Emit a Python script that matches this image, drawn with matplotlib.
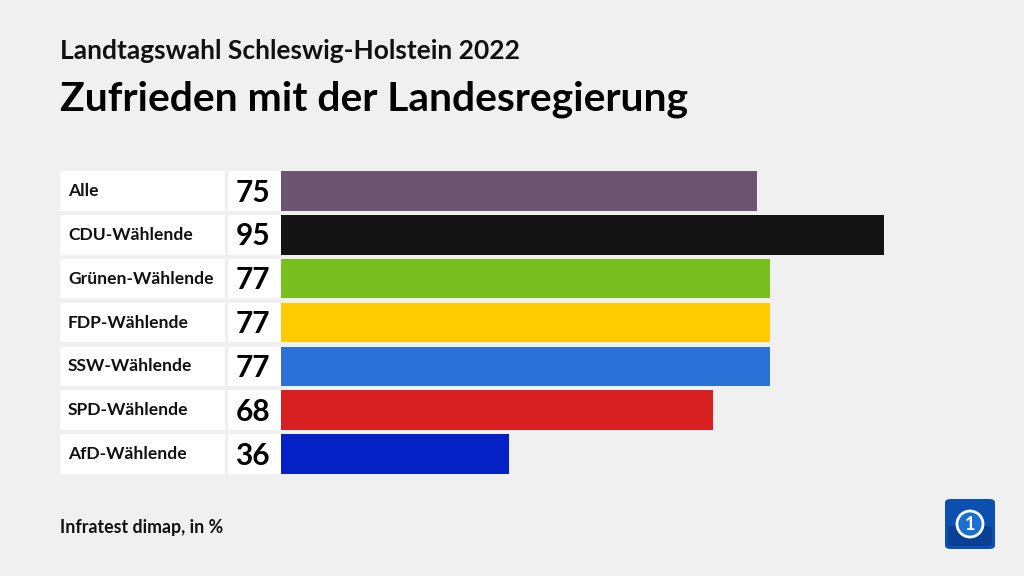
import matplotlib.pyplot as plt
import matplotlib.transforms as mtransforms
from matplotlib.patches import Rectangle, FancyBboxPatch

# data
groups = ["Alle", "CDU-Wählende", "Grünen-Wählende", "FDP-Wählende",
          "SSW-Wählende", "SPD-Wählende", "AfD-Wählende"]
values = [75, 95, 77, 77, 77, 68, 36]
colors = ["#6b5570", "#141414", "#78be1f", "#ffcc00",
          "#2a72d8", "#d7201f", "#0421c5"]

plt.rcParams['font.family'] = ['Lato', 'DejaVu Sans']
bg = "#f0f0f0"

W, H = 1024, 576
fig = plt.figure(figsize=(W / 100, H / 100), dpi=100, facecolor=bg)

# axes: bars start at x=281px, 100 units = 634.7px
top_px, bot_px = 168.8, 476.2
ax = fig.add_axes([281 / W, 1 - bot_px / H, 634.7 / W, (bot_px - top_px) / H])
ax.set_facecolor("none")
ypos = list(range(len(groups)))
bar_h = 0.905
ax.barh(ypos, values, height=bar_h, color=colors, left=0)
ax.set_xlim(0, 100)
ax.set_ylim(len(groups) - 0.5, -0.5)
ax.axis("off")

# label boxes in figure-x / data-y coords
trans = mtransforms.blended_transform_factory(fig.transFigure, ax.transData)
for i, (g, v) in enumerate(zip(groups, values)):
    ax.add_patch(Rectangle((60 / W, i - bar_h / 2), (225 - 60) / W, bar_h,
                           transform=trans, facecolor="white", edgecolor="none",
                           clip_on=False))
    ax.add_patch(Rectangle((227.5 / W, i - bar_h / 2), (281 - 227.5) / W, bar_h,
                           transform=trans, facecolor="white", edgecolor="none",
                           clip_on=False))
    ax.text(68 / W, i, g, transform=trans, ha="left", va="center",
            fontsize=12.6, fontweight="bold", color="#111111")
    ax.text(270 / W, i + 0.04, str(v), transform=trans, ha="right", va="center",
            fontsize=21.5, fontweight="bold", color="#000000")

# titles
fig.text(60 / W, 1 - 51 / H, "Landtagswahl Schleswig-Holstein 2022",
         ha="left", va="center", fontsize=19, fontweight="bold", color="#111111")
fig.text(60 / W, 1 - 99 / H, "Zufrieden mit der Landesregierung",
         ha="left", va="center", fontsize=29.3, fontweight="bold", color="#000000")
fig.text(60 / W, 1 - 527 / H, "Infratest dimap, in %",
         ha="left", va="center", fontsize=12.8, fontweight="bold", color="#111111")

# logo
lx, ly, ls = 945 / W, 1 - 549 / H, 50
logo = FancyBboxPatch((lx, ly), ls / W, ls / H,
                      boxstyle="round,pad=0,rounding_size=0.006",
                      transform=fig.transFigure, facecolor="#0b4fb0",
                      edgecolor="none")
fig.patches.append(logo)
cx, cy = (945 + 25) / W, 1 - 524 / H
fig.patches.append(FancyBboxPatch((lx + 3 / W, ly + 3 / H), 44 / W, 20 / H,
                                  boxstyle="round,pad=0,rounding_size=0.004",
                                  transform=fig.transFigure, facecolor="#093f94",
                                  edgecolor="none"))
fig.text(cx, cy, "1", ha="center", va="center", fontsize=13, fontweight="bold",
         color="white",
         bbox=dict(boxstyle="circle,pad=0.25", facecolor="#1a6fd0",
                   edgecolor="white", linewidth=2))

fig.savefig("out.png", dpi=100, facecolor=bg)
